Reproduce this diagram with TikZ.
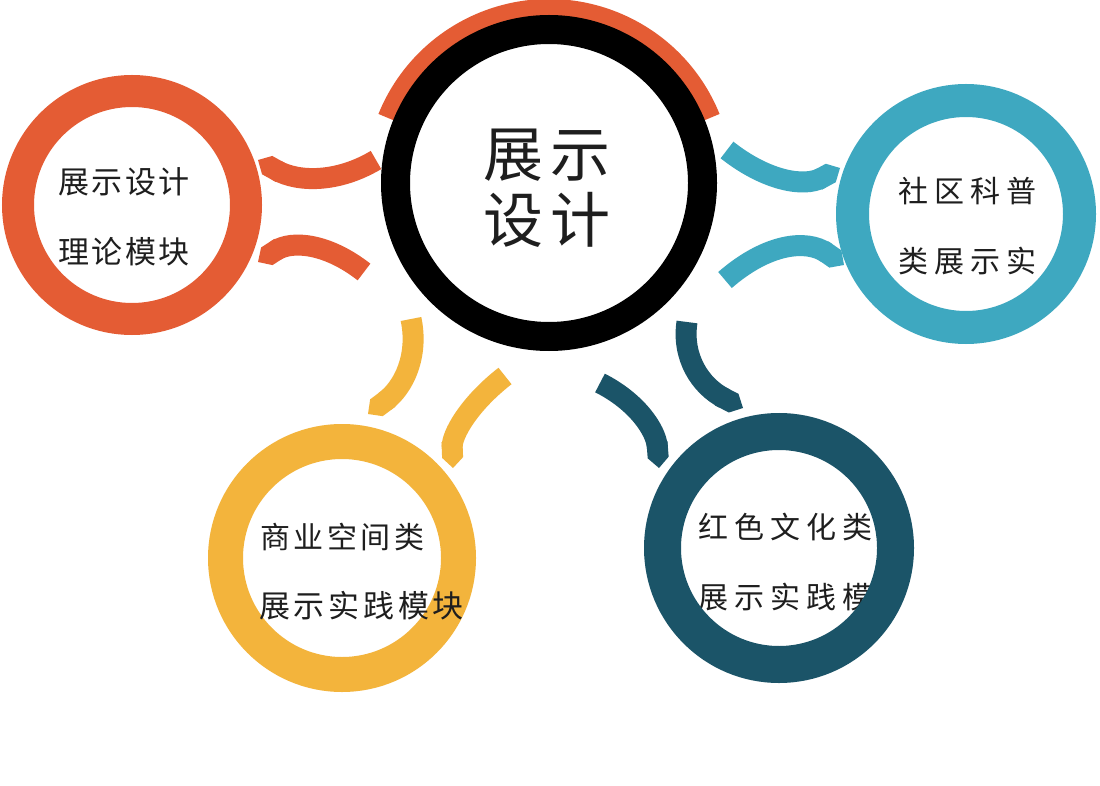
\documentclass[tikz,border=0pt]{standalone}
\usepackage{fontspec}
\newfontfamily\cjk{Noto Sans CJK SC}
\usetikzlibrary{arrows.meta}
\definecolor{cOr}{RGB}{228,92,52}
\definecolor{cTe}{RGB}{62,168,192}
\definecolor{cYe}{RGB}{243,180,60}
\definecolor{cDb}{RGB}{27,84,104}
\definecolor{cTx}{RGB}{30,30,30}
\tikzset{
  ring/.style={circle, draw, inner sep=0pt, fill=none},
  band/.style={line width=21pt, line cap=butt, -{Triangle Cap}},
  lbl/.style={inner sep=0pt, anchor=west, text=cTx,
    font=\cjk\fontsize{30pt}{30pt}\selectfont},
  big/.style={inner sep=0pt, anchor=west, text=cTx,
    font=\cjk\fontsize{60pt}{60pt}\selectfont\addfontfeatures{LetterSpace=12}},
}
\begin{document}
\begin{tikzpicture}[x=1pt,y=-1pt]
\useasboundingbox (0,0) rectangle (1100,786);
\fill[white] (0,0) rectangle (1100,786);

% band end points
\coordinate (o1a) at (376,160); \coordinate (o1b) at (258,160);
\coordinate (o2a) at (364,272); \coordinate (o2b) at (258,262);
\coordinate (t1a) at (727,150); \coordinate (t1b) at (840,168);
\coordinate (t2a) at (725,280); \coordinate (t2b) at (844,265);
\coordinate (y1a) at (411,319); \coordinate (y1b) at (368,414);
\coordinate (y2a) at (505,376); \coordinate (y2b) at (453,468);
\coordinate (b1a) at (687,322); \coordinate (b1b) at (743,408);
\coordinate (b2a) at (600,383); \coordinate (b2b) at (659,468);

% connector bands
\draw[band, cOr] (o1a) .. controls (338,182.7) and (298.7,182.7) .. (o1b);
\draw[band, cOr] (o2a) .. controls (327.3,243.3) and (292,240) .. (o2b);
\draw[band, cTe] (t1a) .. controls (766.7,181.3) and (804.3,187.3) .. (t1b);
\draw[band, cTe] (t2a) .. controls (766.7,243.7) and (806.3,238.7) .. (t2b);
\draw[band, cYe] (y1a) .. controls (418.7,355.3) and (404.3,387) .. (y1b);
\draw[band, cYe] (y2a) .. controls (469,404) and (451.7,434.7) .. (y2b);
\draw[band, cDb] (b1a) .. controls (681.7,357.3) and (700.3,386) .. (b1b);
\draw[band, cDb] (b2a) .. controls (636.3,401.3) and (656,429.7) .. (b2b);

% central circle with orange cap arc
\coordinate (cC) at (549,183);
\draw[cOr, line width=20pt] (cC) ++(-22:174) arc[start angle=-22, end angle=-158, radius=174];
\node[ring, draw=black, line width=29pt, minimum size=307pt] (rC) at (cC) {};
\node[big] (tC1) at (483,155) {展示};
\node[big] (tC2) at (483,220) {设计};

% left orange circle
\node[ring, draw=cOr, line width=32pt, minimum size=228pt] (rL) at (132,205) {};
\node[lbl, font=\cjk\fontsize{31pt}{31pt}\selectfont\addfontfeatures{LetterSpace=8}] (tL1) at (58,182) {展示设计};
\node[lbl, font=\cjk\fontsize{31pt}{31pt}\selectfont\addfontfeatures{LetterSpace=8}] (tL2) at (58,252) {理论模块};

% right teal circle
\node[ring, draw=cTe, line width=33pt, minimum size=227pt] (rT) at (966,214) {};
\node[lbl, font=\cjk\fontsize{30pt}{30pt}\selectfont\addfontfeatures{LetterSpace=20}] (tT1) at (898,191) {社区科普};
\node[lbl, font=\cjk\fontsize{30pt}{30pt}\selectfont\addfontfeatures{LetterSpace=20}] (tT2) at (898,261) {类展示实};

% yellow circle (text drawn over ring)
\node[ring, draw=cYe, line width=35pt, minimum size=233pt] (rY) at (342,558) {};
\node[lbl, font=\cjk\fontsize{30pt}{30pt}\selectfont\addfontfeatures{LetterSpace=12}] (tY1) at (260,537) {商业空间类};
\node[lbl, font=\cjk\fontsize{31pt}{31pt}\selectfont\addfontfeatures{LetterSpace=12}] (tY2) at (259,606) {展示实践模块};

% dark blue circle (ring drawn over text)
\node[lbl, font=\cjk\fontsize{30pt}{30pt}\selectfont\addfontfeatures{LetterSpace=20}] (tB1) at (698,527) {红色文化类};
\node[lbl, font=\cjk\fontsize{30pt}{30pt}\selectfont\addfontfeatures{LetterSpace=20}] (tB2) at (698,597) {展示实践模};
\node[ring, draw=cDb, line width=37pt, minimum size=233pt] (rB) at (779,548) {};
\end{tikzpicture}
\end{document}
